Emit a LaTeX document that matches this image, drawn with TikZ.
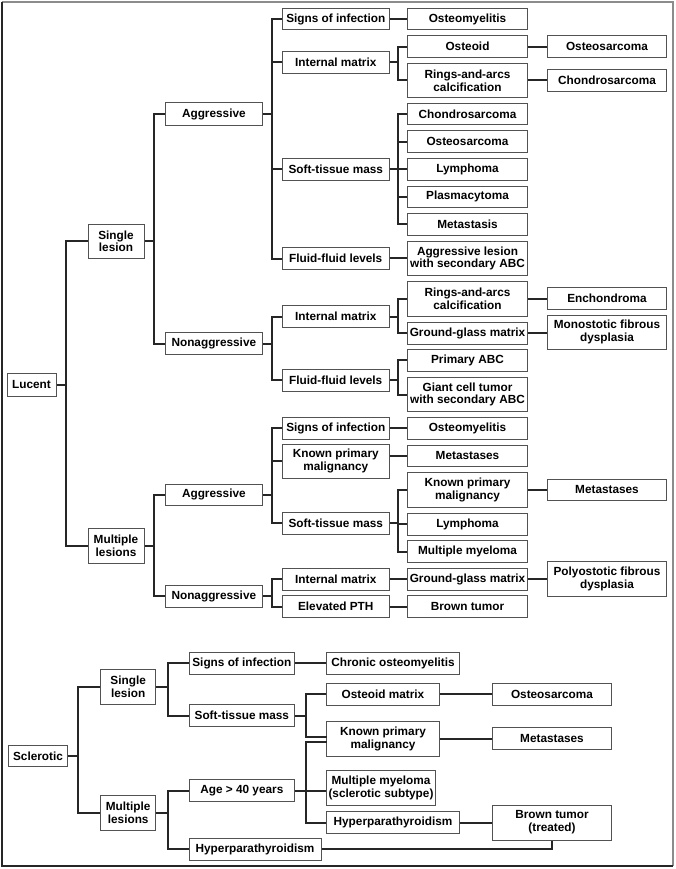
\documentclass[tikz,border=0pt]{standalone}
\usepackage{fontspec}
\setmainfont{Liberation Sans}
\usetikzlibrary{calc}
\tikzset{
 bx/.style={draw=black!68, line width=1pt, inner sep=1pt, align=center,
   font=\fontsize{11.8}{12.8}\selectfont\bfseries, fill=white},
 conn/.style={draw=black!85, line width=2pt, line join=miter},
}
\newcommand{\mybox}[6]{\node[bx, minimum width={#4-#2}, minimum height={#5-#3}] (#1) at ({(#2+#4)/2},{(#3+#5)/2}) {#6};}
\begin{document}
\begin{tikzpicture}[x=1pt,y=-1pt]
\useasboundingbox (0,0) rectangle (675,869);
% frame
\draw[black!45, line width=2pt] (1.5,2) -- (672.7,2) -- (672.7,865.7);
\draw[black!85, line width=2pt] (1.5,2) -- (1.5,865.7) -- (672.7,865.7);

% ---------- Lucent ----------
\mybox{lucent}{7}{373}{56}{396}{Lucent}
\mybox{sl1}{88}{224}{144}{258.7}{Single\\lesion}
\mybox{ml1}{88}{528}{144}{563}{Multiple\\lesions}
\mybox{ag1}{165}{103}{262.7}{125.7}{Aggressive}
\mybox{na1}{165}{332.7}{262.7}{354.7}{Nonaggressive}
\mybox{ag2}{165}{484}{262.7}{505.7}{Aggressive}
\mybox{na2}{165}{585}{262.7}{607.3}{Nonaggressive}
% level 3
\mybox{a_si}{282.5}{8.3}{389}{30}{Signs of infection}
\mybox{a_im}{282.5}{51.7}{389}{73.3}{Internal matrix}
\mybox{a_st}{282.5}{158.3}{389}{180.3}{Soft-tissue mass}
\mybox{a_ff}{282.5}{247.7}{389}{269.7}{Fluid-fluid levels}
\mybox{n_im}{282.5}{305.7}{389}{327.3}{Internal matrix}
\mybox{n_ff}{282.5}{369.3}{389}{391}{Fluid-fluid levels}
\mybox{b_si}{282.5}{417.3}{389}{439.3}{Signs of infection}
\mybox{b_kp}{282.5}{444.3}{389}{478.3}{Known primary\\malignancy}
\mybox{b_st}{282.5}{512.3}{389}{534}{Soft-tissue mass}
\mybox{m_im}{282.5}{568.3}{389}{590}{Internal matrix}
\mybox{m_pth}{282.5}{595.7}{389}{617.3}{Elevated PTH}
% level 4
\mybox{a_ost}{407.7}{8.3}{527.3}{30}{Osteomyelitis}
\mybox{a_osd}{407.7}{36}{527.3}{57.3}{Osteoid}
\mybox{a_ra}{407.7}{63.3}{527.3}{97.7}{Rings-and-arcs\\calcification}
\mybox{a_ch}{407.7}{103.3}{527.3}{125}{Chondrosarcoma}
\mybox{a_os}{407.7}{131}{527.3}{152.7}{Osteosarcoma}
\mybox{a_ly}{407.7}{158.3}{527.3}{180.3}{Lymphoma}
\mybox{a_pl}{407.7}{186}{527.3}{207.7}{Plasmacytoma}
\mybox{a_me}{407.7}{213.3}{527.3}{235.3}{Metastasis}
\mybox{a_ab}{407.7}{241}{527.3}{275.7}{Aggressive lesion\\with secondary ABC}
\mybox{n_ra}{407.7}{281}{527.3}{316}{Rings-and-arcs\\calcification}
\mybox{n_gg}{407.7}{322.3}{527.3}{344}{Ground-glass matrix}
\mybox{n_pa}{407.7}{349.3}{527.3}{371.3}{Primary ABC}
\mybox{n_gc}{407.7}{377.3}{527.3}{411.7}{Giant cell tumor\\with secondary ABC}
\mybox{b_ost}{407.7}{417.3}{527.3}{439.3}{Osteomyelitis}
\mybox{b_me}{407.7}{445}{527.3}{466.7}{Metastases}
\mybox{b_kp2}{407.7}{472.7}{527.3}{507.3}{Known primary\\malignancy}
\mybox{b_ly}{407.7}{513.3}{527.3}{535}{Lymphoma}
\mybox{b_mm}{407.7}{540.7}{527.3}{562.3}{Multiple myeloma}
\mybox{m_gg}{407.7}{568.3}{527.3}{590}{Ground-glass matrix}
\mybox{m_bt}{407.7}{595.7}{527.3}{617.3}{Brown tumor}
% level 5
\mybox{a_os5}{547.3}{36}{666.7}{57.3}{Osteosarcoma}
\mybox{a_ch5}{547.3}{69.3}{666.7}{91.3}{Chondrosarcoma}
\mybox{n_en}{547.3}{287.7}{666.7}{309.3}{Enchondroma}
\mybox{n_mf}{547.3}{315.3}{666.7}{349.3}{Monostotic fibrous\\dysplasia}
\mybox{b_me5}{547.3}{479}{666.7}{500.7}{Metastases}
\mybox{m_pf}{547.3}{561.7}{666.7}{596}{Polyostotic fibrous\\dysplasia}

% ---------- Sclerotic ----------
\mybox{scl}{8.3}{745.7}{67.7}{766.7}{Sclerotic}
\mybox{s_sl}{100.7}{669.3}{155.7}{704}{Single\\lesion}
\mybox{s_ml}{100.7}{795.7}{155.7}{830}{Multiple\\lesions}
\mybox{s_si}{189}{652.3}{294.7}{674}{Signs of infection}
\mybox{s_st}{189}{704.7}{294.7}{726.7}{Soft-tissue mass}
\mybox{s_age}{189}{779.7}{294.7}{801.7}{Age > 40 years}
\mybox{s_hp}{189}{838}{321}{860}{Hyperparathyroidism}
\mybox{s_co}{326.7}{652.3}{459.3}{674}{Chronic osteomyelitis}
\mybox{s_om}{326.7}{683.3}{439.3}{705}{Osteoid matrix}
\mybox{s_kp}{326.7}{721.7}{439.3}{756}{Known primary\\malignancy}
\mybox{s_mm}{326.7}{770.7}{435.3}{805}{Multiple myeloma\\(sclerotic subtype)}
\mybox{s_hp2}{326.7}{811.7}{459.3}{833.3}{Hyperparathyroidism}
\mybox{s_os}{492.3}{683.3}{611.7}{705}{Osteosarcoma}
\mybox{s_me}{492.3}{727.7}{611.7}{749.3}{Metastases}
\mybox{s_bt}{492.3}{805}{611.7}{840}{Brown tumor\\(treated)}

% bus coordinates
\coordinate (L0) at (65.7,0);
\coordinate (L1) at (153.7,0);
\coordinate (L2) at (271.7,0);
\coordinate (L3) at (397.7,0);
\coordinate (S0) at (77.7,0);
\coordinate (S1) at (167.7,0);
\coordinate (S2) at (306,0);
\coordinate (kpA) at (326.7,736.7);
\coordinate (kpB) at (326.7,741.7);

% Lucent connectors
\draw[conn] (lucent.east) -- (lucent.east -| L0);
\draw[conn] (sl1.west) -- (sl1.west -| L0) -- (ml1.west -| L0) -- (ml1.west);
\draw[conn] (sl1.east) -- (sl1.east -| L1);
\draw[conn] (ag1.west) -- (ag1.west -| L1) -- (na1.west -| L1) -- (na1.west);
\draw[conn] (ml1.east) -- (ml1.east -| L1);
\draw[conn] (ag2.west) -- (ag2.west -| L1) -- (na2.west -| L1) -- (na2.west);
% level 2 -> 3
\draw[conn] (ag1.east) -- (ag1.east -| L2);
\draw[conn] (a_si.west) -- (a_si.west -| L2) -- (a_ff.west -| L2) -- (a_ff.west);
\draw[conn] (a_im.west) -- (a_im.west -| L2);
\draw[conn] (a_st.west) -- (a_st.west -| L2);
\draw[conn] (na1.east) -- (na1.east -| L2);
\draw[conn] (n_im.west) -- (n_im.west -| L2) -- (n_ff.west -| L2) -- (n_ff.west);
\draw[conn] (ag2.east) -- (ag2.east -| L2);
\draw[conn] (b_si.west) -- (b_si.west -| L2) -- (b_st.west -| L2) -- (b_st.west);
\draw[conn] (b_kp.west) -- (b_kp.west -| L2);
\draw[conn] (na2.east) -- (na2.east -| L2);
\draw[conn] (m_im.west) -- (m_im.west -| L2) -- (m_pth.west -| L2) -- (m_pth.west);
% level 3 -> 4
\draw[conn] (a_ost.west -| a_si.east) -- (a_ost.west);
\draw[conn] (a_im.east) -- (a_im.east -| L3);
\draw[conn] (a_osd.west) -- (a_osd.west -| L3) -- (a_ra.west -| L3) -- (a_ra.west);
\draw[conn] (a_st.east) -- (a_st.east -| L3);
\draw[conn] (a_ch.west) -- (a_ch.west -| L3) -- (a_me.west -| L3) -- (a_me.west);
\draw[conn] (a_os.west) -- (a_os.west -| L3);
\draw[conn] (a_ly.west) -- (a_ly.west -| L3);
\draw[conn] (a_pl.west) -- (a_pl.west -| L3);
\draw[conn] (a_ab.west -| a_ff.east) -- (a_ab.west);
\draw[conn] (n_im.east) -- (n_im.east -| L3);
\draw[conn] (n_ra.west) -- (n_ra.west -| L3) -- (n_gg.west -| L3) -- (n_gg.west);
\draw[conn] (n_ff.east) -- (n_ff.east -| L3);
\draw[conn] (n_pa.west) -- (n_pa.west -| L3) -- (n_gc.west -| L3) -- (n_gc.west);
\draw[conn] (b_ost.west -| b_si.east) -- (b_ost.west);
\draw[conn] (b_me.west -| b_kp.east) -- (b_me.west);
\draw[conn] (b_st.east) -- (b_st.east -| L3);
\draw[conn] (b_kp2.west) -- (b_kp2.west -| L3) -- (b_mm.west -| L3) -- (b_mm.west);
\draw[conn] (b_ly.west) -- (b_ly.west -| L3);
\draw[conn] (m_gg.west -| m_im.east) -- (m_gg.west);
\draw[conn] (m_bt.west -| m_pth.east) -- (m_bt.west);
% level 4 -> 5
\draw[conn] (a_os5.west -| a_osd.east) -- (a_os5.west);
\draw[conn] (a_ch5.west -| a_ra.east) -- (a_ch5.west);
\draw[conn] (n_en.west -| n_ra.east) -- (n_en.west);
\draw[conn] (n_gg.east) -- (n_gg.east -| n_mf.west);
\draw[conn] (b_me5.west -| b_kp2.east) -- (b_me5.west);
\draw[conn] (m_pf.west -| m_gg.east) -- (m_pf.west);

% Sclerotic connectors
\draw[conn] (scl.east) -- (scl.east -| S0);
\draw[conn] (s_sl.west) -- (s_sl.west -| S0) -- (s_ml.west -| S0) -- (s_ml.west);
\draw[conn] (s_sl.east) -- (s_sl.east -| S1);
\draw[conn] (s_si.west) -- (s_si.west -| S1) -- (s_st.west -| S1) -- (s_st.west);
\draw[conn] (s_ml.east) -- (s_ml.east -| S1);
\draw[conn] (s_age.west) -- (s_age.west -| S1) -- (s_hp.west -| S1) -- (s_hp.west);
\draw[conn] (s_co.west -| s_si.east) -- (s_co.west);
\draw[conn] (s_st.east) -- (s_st.east -| S2);
\draw[conn] (s_om.west) -- (s_om.west -| S2) -- (kpA -| S2) -- (kpA);
\draw[conn] (s_age.east) -- (s_age.east -| s_mm.west);
\draw[conn] (kpB) -- (kpB -| S2) -- (s_hp2.west -| S2) -- (s_hp2.west);
\draw[conn] (s_om.east) -- (s_om.east -| s_os.west);
\draw[conn] (s_me.west -| s_kp.east) -- (s_me.west);
\draw[conn] (s_hp2.east) -- (s_hp2.east -| s_bt.west);
\draw[conn] (s_hp.east) -| (s_bt.south);
\end{tikzpicture}
\end{document}
